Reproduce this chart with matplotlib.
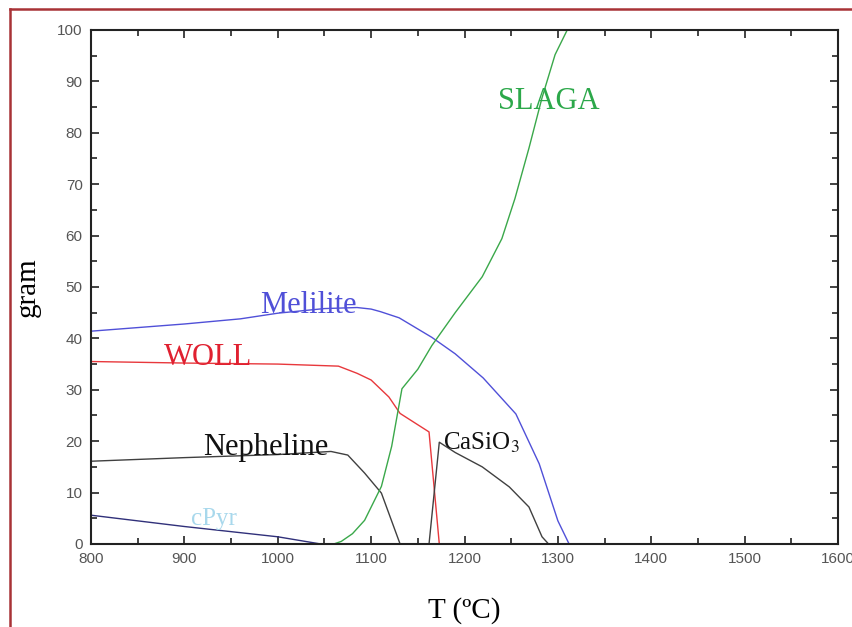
import matplotlib
matplotlib.use('Agg')
import matplotlib.pyplot as plt
from matplotlib.lines import Line2D
import numpy as np

# phase amounts (gram) vs temperature (C)
t_melilite = [800, 900, 960, 1000, 1050, 1085, 1100, 1110, 1130, 1165, 1190, 1220, 1255, 1280, 1300, 1312]
melilite = [41.4, 42.8, 43.8, 44.9, 45.8, 46.0, 45.7, 45.2, 44.0, 40.2, 37.0, 32.3, 25.3, 15.6, 4.5, 0.0]

t_woll = [800, 900, 1000, 1065, 1085, 1100, 1119, 1131, 1162, 1173]
woll = [35.5, 35.2, 35.0, 34.6, 33.2, 31.9, 28.6, 25.4, 21.8, 0.0]

t_neph = [800, 900, 1000, 1057, 1075, 1093, 1111, 1131]
nepheline = [16.1, 16.8, 17.4, 18.0, 17.3, 13.8, 9.9, 0.0]

t_casio3 = [1162, 1173, 1190, 1219, 1248, 1269, 1283, 1290]
casio3 = [0.0, 19.8, 17.8, 15.0, 11.1, 7.2, 1.4, 0.0]

t_slaga = [1060, 1068, 1080, 1093, 1111, 1122, 1133, 1150, 1165, 1190, 1219, 1240, 1254, 1269, 1283, 1297, 1310]
slaga = [0.0, 0.5, 2.0, 4.6, 11.2, 19.0, 30.2, 34.0, 38.6, 45.0, 52.0, 59.4, 67.2, 77.0, 86.8, 95.2, 100.0]

t_cpyr = [800, 900, 1000, 1046]
cpyr = [5.6, 3.4, 1.4, 0.0]

plt.rcParams['mathtext.fontset'] = 'stix'
fig = plt.figure(figsize=(8.52, 6.27), dpi=100)
ax = fig.add_axes([0.1068, 0.1324, 0.8768, 0.8198])

ax.plot(t_melilite, melilite, color='#5050d8', lw=1)
ax.plot(t_woll, woll, color='#e8383c', lw=1)
ax.plot(t_neph, nepheline, color='#404040', lw=1)
ax.plot(t_casio3, casio3, color='#404040', lw=1)
ax.plot(t_slaga, slaga, color='#3aa84a', lw=1)
ax.plot(t_cpyr, cpyr, color='#30307a', lw=1)

serif = ['Liberation Serif', 'DejaVu Serif']
ax.text(1033, 46.3, 'Melilite', color='#5050d8', fontsize=22, family=serif, ha='center', va='center')
ax.text(925, 36.2, 'WOLL', color='#e02030', fontsize=22, family=serif, ha='center', va='center')
ax.text(987, 18.7, 'Nepheline', color='#111111', fontsize=22, family=serif, ha='center', va='center')
ax.text(1177, 19.6, 'CaSiO$_3$', color='#111111', fontsize=18, family=serif, ha='left', va='center')
ax.text(1290, 86.0, 'SLAGA', color='#2ca84a', fontsize=22, family=serif, ha='center', va='center')
ax.text(932, 4.8, 'cPyr', color='#a8d8ec', fontsize=18, family=serif, ha='center', va='center')

ax.set_xlim(800, 1600)
ax.set_ylim(0, 100)
ax.set_xticks(np.arange(800, 1601, 100))
ax.set_xticks(np.arange(850, 1600, 100), minor=True)
ax.set_yticks(np.arange(0, 101, 10))
ax.set_yticks(np.arange(5, 100, 10), minor=True)

sans = ['Liberation Sans Narrow', 'Liberation Sans']
for lab in ax.get_xticklabels() + ax.get_yticklabels():
    lab.set_family(sans)
ax.tick_params(which='both', direction='in', top=True, right=True, colors='#222222',
               labelcolor='#555555', labelsize=11, width=1.2)
ax.tick_params(which='major', length=6, pad=6)
ax.tick_params(which='minor', length=4)
for s in ax.spines.values():
    s.set_linewidth(1.5)
    s.set_color('#222222')

ax.set_xlabel('T (ºC)', family=serif, fontsize=21, labelpad=22)
ax.set_ylabel('gram', family=serif, fontsize=21, labelpad=12)

# dark red frame around the figure (top and left edges)
fig.add_artist(Line2D([10 / 852, 1.0], [1 - 9 / 627, 1 - 9 / 627], color='#a83236', lw=1.8,
                      transform=fig.transFigure))
fig.add_artist(Line2D([10 / 852, 10 / 852], [0.0, 1 - 9 / 627], color='#a83236', lw=1.8,
                      transform=fig.transFigure))

fig.savefig('out.png', dpi=100)
